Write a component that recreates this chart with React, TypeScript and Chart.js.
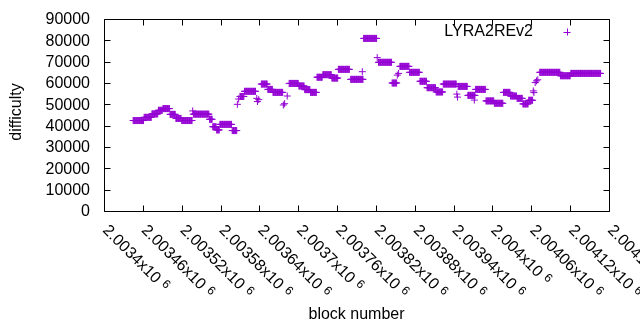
import React, { useEffect, useRef } from 'react';
import { Chart, registerables } from 'chart.js';

Chart.register(...registerables);

// ---- data ----
// runs of consecutive blocks sharing one difficulty value
const runStart = [
  2003445, 2003462, 2003474, 2003484, 2003491, 2003502, 2003511, 2003520, 2003538, 2003563,
  2003568, 2003574, 2003579, 2003598, 2003610, 2003617, 2003643, 2003653, 2003661, 2003686,
  2003701, 2003710, 2003719, 2003729, 2003738, 2003752, 2003762, 2003781, 2003801, 2003824,
  2003845, 2003857, 2003872, 2003888, 2003899, 2003913, 2003924, 2003947, 2003962, 2003974,
  2003990, 2004003, 2004017, 2004028, 2004038, 2004047, 2004056, 2004073, 2004105, 2004121,
];
const runEnd = [
  2003461, 2003473, 2003483, 2003490, 2003501, 2003510, 2003519, 2003536, 2003562, 2003567,
  2003573, 2003578, 2003597, 2003605, 2003616, 2003634, 2003652, 2003660, 2003676, 2003700,
  2003709, 2003718, 2003728, 2003737, 2003751, 2003761, 2003779, 2003800, 2003821, 2003844,
  2003852, 2003871, 2003887, 2003898, 2003912, 2003923, 2003944, 2003961, 2003973, 2003989,
  2004002, 2004016, 2004027, 2004037, 2004046, 2004055, 2004062, 2004104, 2004120, 2004167,
];
const runValue = [
  42400, 43900, 45500, 47200, 48000, 45300, 43400, 42400, 45400, 43000,
  39500, 38000, 40600, 37700, 53700, 56100, 59500, 57000, 55600, 59800,
  58600, 56900, 55600, 62700, 63900, 62300, 66400, 61700, 80900, 69700,
  60000, 67800, 65000, 60800, 57800, 55800, 59500, 58400, 54200, 57000,
  51600, 50500, 55600, 53900, 52800, 50200, 51900, 65000, 63400, 64500,
];
// isolated blocks
const singleBlock = [
  2003537, 2003606, 2003608, 2003636, 2003637, 2003639, 2003677, 2003679, 2003683, 2003799,
  2003822, 2003853, 2003855, 2003945, 2003946, 2003972, 2004063, 2004064, 2004066, 2004068,
  2004070,
];
const singleValue = [
  46900, 50000, 52500, 52800, 51300, 52200, 49700, 50300, 53900, 65300,
  71900, 63700, 64500, 54800, 53400, 52000, 56300, 55500, 60200, 61000,
  61500,
];

const xTickValues = [
  2003400, 2003460, 2003520, 2003580, 2003640, 2003700, 2003760, 2003820,
  2003880, 2003940, 2004000, 2004060, 2004120, 2004180,
];
const xTickLabels = [
  '2.0034', '2.00346', '2.00352', '2.00358', '2.00364', '2.0037', '2.00376', '2.00382',
  '2.00388', '2.00394', '2.004', '2.00406', '2.00412', '2.00418',
];
const xTickExponent = '6';
const yTickValues = [0, 10000, 20000, 30000, 40000, 50000, 60000, 70000, 80000, 90000];
const yTickLabels = ['0', '10000', '20000', '30000', '40000', '50000', '60000', '70000', '80000', '90000'];

const seriesName = 'LYRA2REv2';
const xTitle = 'block number';
const yTitle = 'difficulty';

const PURPLE = '#9400D3';
const FONT = '"Liberation Sans", Arial, sans-serif';

function buildPoints() {
  const pts: { x: number; y: number }[] = [];
  runStart.forEach((s, i) => {
    for (let b = s; b <= runEnd[i]; b++) pts.push({ x: b, y: runValue[i] });
  });
  singleBlock.forEach((b, i) => pts.push({ x: b, y: singleValue[i] }));
  return pts;
}

const framePlugin = {
  id: 'gnuplotFrame',
  afterDraw(chart: any) {
    const { ctx, chartArea, scales } = chart;
    const { left, right, top, bottom } = chartArea;
    const xs = scales.x;
    const ys = scales.y;
    ctx.save();
    ctx.strokeStyle = '#000';
    ctx.lineWidth = 1;
    const L = Math.round(left) + 0.5;
    const R = Math.round(right) + 0.5;
    const T = Math.round(top) + 0.5;
    const B = Math.round(bottom) + 0.5;
    ctx.beginPath();
    ctx.rect(L, T, R - L, B - T);
    yTickValues.forEach((v) => {
      const py = Math.round(ys.getPixelForValue(v)) + 0.5;
      ctx.moveTo(L, py);
      ctx.lineTo(L + 6, py);
      ctx.moveTo(R, py);
      ctx.lineTo(R - 6, py);
    });
    xTickValues.forEach((v) => {
      const px = Math.round(xs.getPixelForValue(v)) + 0.5;
      ctx.moveTo(px, B);
      ctx.lineTo(px, B - 6);
      ctx.moveTo(px, T);
      ctx.lineTo(px, T + 6);
    });
    ctx.stroke();

    ctx.fillStyle = '#000';
    // y tick labels
    ctx.font = `16px ${FONT}`;
    ctx.textAlign = 'right';
    ctx.textBaseline = 'middle';
    yTickValues.forEach((v, i) => {
      ctx.fillText(yTickLabels[i], left - 14, ys.getPixelForValue(v) + 1);
    });

    // rotated x tick labels
    xTickValues.forEach((v, i) => {
      const px = xs.getPixelForValue(v);
      ctx.save();
      ctx.translate(px + 1, bottom + 17);
      ctx.rotate(Math.PI / 4);
      ctx.font = `16px ${FONT}`;
      ctx.textAlign = 'left';
      ctx.textBaseline = 'middle';
      const main = xTickLabels[i] + 'x10';
      ctx.fillText(main, 0, 0);
      const w = ctx.measureText(main).width;
      ctx.font = `12px ${FONT}`;
      ctx.fillText(xTickExponent, w + 5, -3);
      ctx.restore();
    });

    // axis titles
    ctx.font = `16px ${FONT}`;
    ctx.textAlign = 'center';
    ctx.textBaseline = 'middle';
    ctx.fillText(xTitle, (left + right) / 2, 315);
    ctx.save();
    ctx.translate(17, 112);
    ctx.rotate(-Math.PI / 2);
    ctx.fillText(yTitle, 0, 0);
    ctx.restore();

    // legend
    ctx.textAlign = 'right';
    ctx.fillText(seriesName, 533, 32);
    ctx.strokeStyle = PURPLE;
    ctx.beginPath();
    ctx.moveTo(567 - 3.5, 32.5);
    ctx.lineTo(567 + 3.5, 32.5);
    ctx.moveTo(567.5, 32 - 3.5);
    ctx.lineTo(567.5, 32 + 3.5);
    ctx.stroke();
    ctx.restore();
  },
};

export default function App() {
  const canvasRef = useRef<HTMLCanvasElement | null>(null);

  useEffect(() => {
    if (!canvasRef.current) return;
    const chart = new Chart(canvasRef.current, {
      type: 'scatter',
      data: {
        datasets: [
          {
            label: seriesName,
            data: buildPoints(),
            pointStyle: 'cross',
            pointRadius: 3.5,
            pointHoverRadius: 3.5,
            pointBorderWidth: 1,
            borderColor: PURPLE,
            backgroundColor: PURPLE,
            showLine: false,
          },
        ],
      },
      options: {
        responsive: false,
        animation: false,
        events: [],
        layout: { padding: { top: 19, right: 31, left: 0, bottom: 0 } },
        plugins: { legend: { display: false }, tooltip: { enabled: false } },
        scales: {
          x: {
            type: 'linear',
            min: 2003400,
            max: 2004180,
            afterBuildTicks: (s: any) => {
              s.ticks = xTickValues.map((v) => ({ value: v }));
            },
            ticks: { display: false },
            grid: { display: false, drawTicks: false },
            border: { display: false },
            afterFit: (s: any) => {
              s.height = 119;
            },
          },
          y: {
            type: 'linear',
            min: 0,
            max: 90000,
            afterBuildTicks: (s: any) => {
              s.ticks = yTickValues.map((v) => ({ value: v }));
            },
            ticks: { display: false },
            grid: { display: false, drawTicks: false },
            border: { display: false },
            afterFit: (s: any) => {
              s.width = 104;
            },
          },
        },
      },
      plugins: [framePlugin],
    });
    return () => chart.destroy();
  }, []);

  return (
    <div style={{ position: 'absolute', left: 0, top: 0, width: 640, height: 330, background: '#fff' }}>
      <canvas ref={canvasRef} width={640} height={330} style={{ display: 'block' }} />
    </div>
  );
}
